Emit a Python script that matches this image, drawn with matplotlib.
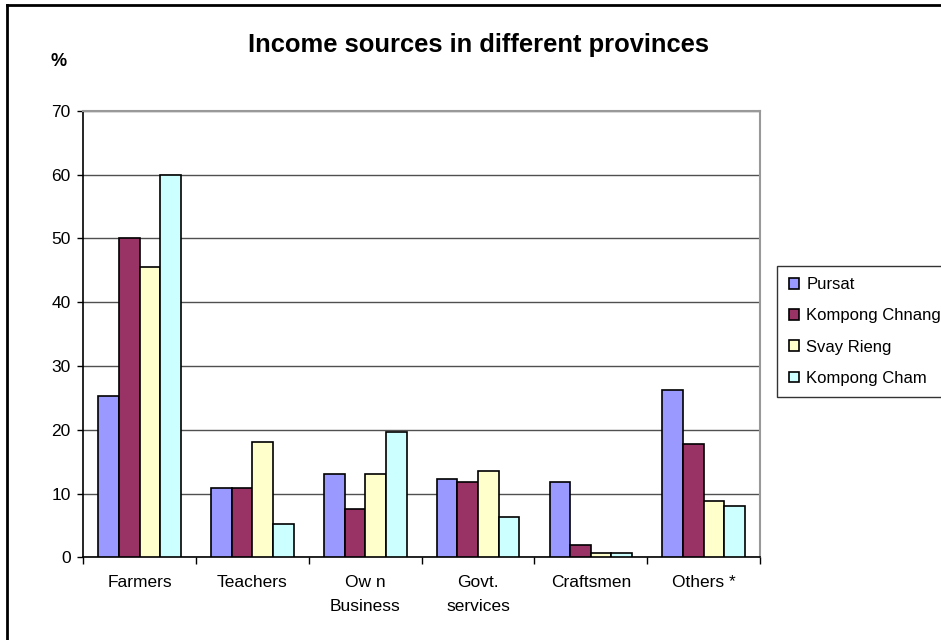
import matplotlib
matplotlib.use("Agg")
import matplotlib.pyplot as plt
import numpy as np

categories = ["Farmers", "Teachers", "Ow n\nBusiness", "Govt.\nservices", "Craftsmen", "Others *"]
series_names = ["Pursat", "Kompong Chnang", "Svay Rieng", "Kompong Cham"]
pursat = [25.3, 10.8, 13.0, 12.3, 11.8, 26.2]
kompong_chnang = [50.0, 10.8, 7.6, 11.8, 2.0, 17.7]
svay_rieng = [45.5, 18.0, 13.0, 13.6, 0.7, 8.8]
kompong_cham = [60.0, 5.2, 19.7, 6.3, 0.7, 8.0]
colors = ["#9999FF", "#993366", "#FFFFCC", "#CCFFFF"]
yticks = [0, 10, 20, 30, 40, 50, 60, 70]

plt.rcParams['font.family'] = ['Liberation Sans', 'DejaVu Sans']

fig = plt.figure(figsize=(9.41, 6.40), dpi=100)
W, H = 941, 640
ax = fig.add_axes([83.3 / W, (H - 557.3) / H, (760 - 83.3) / W, (557.3 - 110.7) / H])

data = [pursat, kompong_chnang, svay_rieng, kompong_cham]
n = len(categories)
x = np.arange(n)
bw = 0.183
offsets = (np.arange(4) - 1.5) * bw
for i, (vals, name, c) in enumerate(zip(data, series_names, colors)):
    ax.bar(x + offsets[i], vals, width=bw, color=c, edgecolor="black",
           linewidth=1.2, label=name, zorder=3)

ax.set_xlim(-0.5, n - 0.5)
ax.set_ylim(0, 70)
ax.set_yticks(yticks)
ax.set_yticklabels([str(v) for v in yticks], fontsize=12.5)
ax.yaxis.grid(True, color="#505050", linewidth=1.0, zorder=0)
ax.set_axisbelow(True)

# category labels centered, ticks at boundaries
ax.set_xticks(np.arange(n + 1) - 0.5)
ax.set_xticklabels([])
ax.set_xticks(x, minor=True)
ax.set_xticklabels(categories, minor=True, fontsize=12.5, linespacing=1.7)
ax.tick_params(axis="x", which="minor", length=0, pad=13)
ax.tick_params(axis="x", which="major", length=5, width=1, color="black", direction="out")
ax.tick_params(axis="y", length=4, width=1, color="black", direction="out", pad=5)

for s in ["top", "right"]:
    ax.spines[s].set_color("#999999")
    ax.spines[s].set_linewidth(1.5)
for s in ["left", "bottom"]:
    ax.spines[s].set_color("black")
    ax.spines[s].set_linewidth(1.2)

fig.text(479 / W, 1 - 45 / H, "Income sources in different provinces",
         ha="center", va="center", fontsize=18.4, fontweight="bold")
fig.text(59 / W, 1 - 62 / H, "%", ha="center", va="center", fontsize=13, fontweight="bold")

leg = fig.legend(loc="upper left", bbox_to_anchor=(777 / W, 1 - 272 / H, 175 / W, 0.01),
                 mode="expand", fontsize=12, frameon=True, fancybox=False,
                 edgecolor="black", handlelength=0.6, handleheight=0.6,
                 handletextpad=0.45, labelspacing=0.97, borderpad=0.7,
                 borderaxespad=0)
leg.get_frame().set_linewidth(1.0)

# outer chart border (left and top visible)
fig.add_artist(plt.Line2D([7 / W, 7 / W], [0, 1 - 5 / H], color="black", linewidth=2, transform=fig.transFigure))
fig.add_artist(plt.Line2D([7 / W, 1], [1 - 5 / H, 1 - 5 / H], color="black", linewidth=2, transform=fig.transFigure))

fig.savefig("out.png", dpi=100)
